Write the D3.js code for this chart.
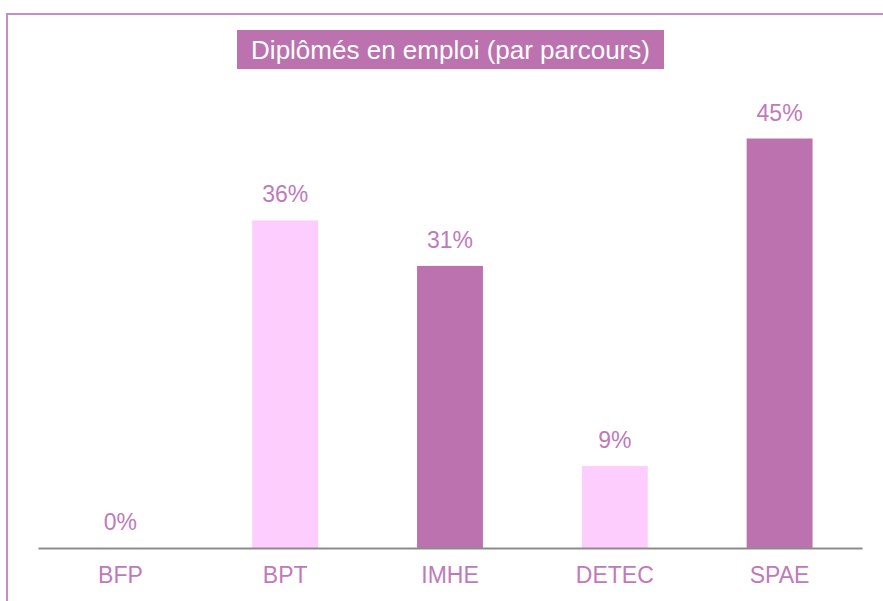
<!DOCTYPE html>
<html><head><meta charset="utf-8">
<script src="https://cdn.jsdelivr.net/npm/d3@7"></script>
<style>html,body{margin:0;padding:0;background:#fff;}svg{display:block;}</style>
</head><body>
<script>
const categories = ["BFP","BPT","IMHE","DETEC","SPAE"];
const values = [0,36,31,9,45];
const labels = ["0%","36%","31%","9%","45%"];
const title = "Diplômés en emploi (par parcours)";

const W = 883, H = 601;
const dark = "#bd72b0", light = "#fdcdfe", txt = "#c07abb";
const svg = d3.select("body").append("svg").attr("width", W).attr("height", H);
svg.append("rect").attr("width", W).attr("height", H).attr("fill", "#fff");
// frame
svg.append("path").attr("d", `M7,${H+5} L7,14 L${W+5},14`).attr("fill","none").attr("stroke","#c58cc5").attr("stroke-width",2);

const x = d3.scaleBand().domain(categories).range([38, 862]).paddingInner(0.6).paddingOuter(0.3);
const y = d3.scaleLinear().domain([0, 50]).range([548, 93]);

svg.selectAll("rect.bar").data(values).join("rect").attr("class","bar")
  .attr("x", (d,i) => x(categories[i])).attr("width", x.bandwidth())
  .attr("y", d => y(d)).attr("height", d => y(0) - y(d))
  .attr("fill", (d,i) => i % 2 === 1 ? light : dark);

svg.selectAll("text.val").data(values).join("text").attr("class","val")
  .attr("x", (d,i) => x(categories[i]) + x.bandwidth()/2)
  .attr("y", d => y(d) - 18)
  .attr("text-anchor","middle").attr("fill", txt)
  .attr("font-family","Liberation Sans, Arial, sans-serif").attr("font-size", 23)
  .text((d,i) => labels[i]);

const ax = svg.append("g").attr("transform", `translate(0,${y(0)})`)
  .call(d3.axisBottom(x).tickSize(0).tickPadding(19));
ax.select(".domain").attr("stroke","#8c8c8c").attr("stroke-width",2);
ax.selectAll("text").attr("fill", txt).attr("font-family","Liberation Sans, Arial, sans-serif").attr("font-size", 23);

// title
const tg = svg.append("g");
tg.append("rect").attr("x", 237).attr("y", 30).attr("width", 427).attr("height", 39).attr("fill", dark);
tg.append("text").attr("x", 450.5).attr("y", 59).attr("text-anchor","middle").attr("fill","#fff")
  .attr("font-family","Liberation Sans, Arial, sans-serif").attr("font-size", 26).text(title);
</script>
</body></html>
